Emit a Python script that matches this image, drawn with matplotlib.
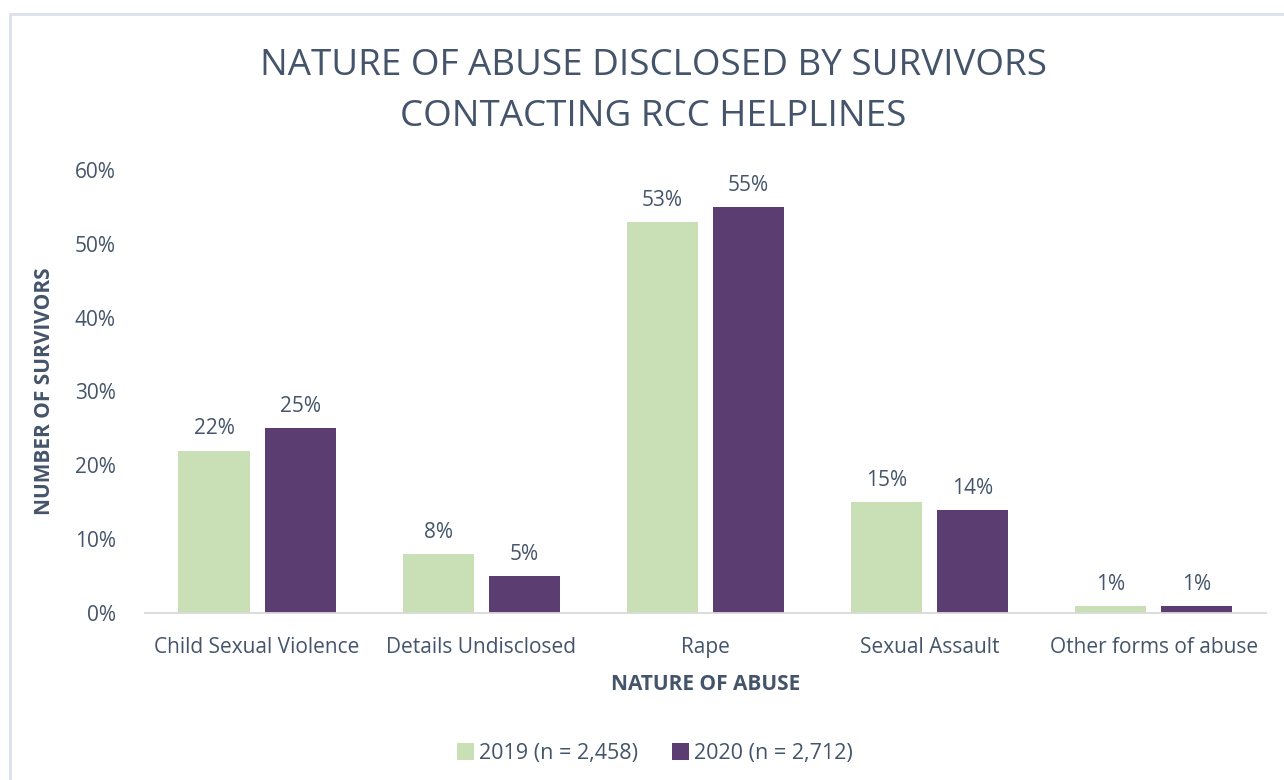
import matplotlib.pyplot as plt
import matplotlib.patches as mpatches
import numpy as np

categories = ["Child Sexual Violence", "Details Undisclosed", "Rape",
              "Sexual Assault", "Other forms of abuse"]
vals_2019 = [22, 8, 53, 15, 1]
vals_2020 = [25, 5, 55, 14, 1]
series_names = ["2019 (n = 2,458)", "2020 (n = 2,712)"]

green = "#C9DFB5"
purple = "#5C3D72"
txt = "#44546A"

plt.rcParams['font.family'] = ['Open Sans', 'DejaVu Sans']

fig = plt.figure(figsize=(12.84, 7.80), dpi=100)
ax = fig.add_axes([0.1129, 0.2141, 0.873, 0.568])

# outer frame
fig.patches.append(mpatches.Rectangle((10 / 1284, -0.01), 1.0, 1 - 14 / 780 + 0.01,
                                      transform=fig.transFigure, fill=False,
                                      edgecolor="#DCE1EA", lw=2))

x = np.arange(len(categories))
w = 0.317
off = (w + 0.067) / 2
b1 = ax.bar(x - off, np.array(vals_2019) / 100, w, color=green, label=series_names[0])
b2 = ax.bar(x + off, np.array(vals_2020) / 100, w, color=purple, label=series_names[1])

for bars, vals in ((b1, vals_2019), (b2, vals_2020)):
    for bar, v in zip(bars, vals):
        ax.annotate(f"{v}%", (bar.get_x() + bar.get_width() / 2, v / 100),
                    xytext=(0, 8), textcoords="offset points",
                    ha="center", va="bottom", fontsize=15, color=txt)

ax.set_xlim(-0.5, 4.5)
ax.set_ylim(0, 0.6)
ax.set_yticks(np.arange(0, 0.61, 0.1))
ax.set_yticklabels([f"{int(round(t * 100))}%" for t in np.arange(0, 0.61, 0.1)])
ax.set_xticks(x)
ax.set_xticklabels(categories)
ax.tick_params(length=0, labelsize=15, labelcolor=txt)
ax.tick_params(axis="x", pad=17)
ax.tick_params(axis="y", pad=21)
for s in ("top", "right", "left"):
    ax.spines[s].set_visible(False)
ax.spines["bottom"].set_color("#D9D9D9")
ax.spines["bottom"].set_linewidth(1.3)

ax.set_xlabel("NATURE OF ABUSE", fontsize=15, fontweight="bold", color=txt, labelpad=12)
ax.set_ylabel("NUMBER OF SURVIVORS", fontsize=15, fontweight="bold", color=txt, labelpad=14)

fig.text(0.509, 0.883, "NATURE OF ABUSE DISCLOSED BY SURVIVORS\nCONTACTING RCC HELPLINES",
         ha="center", va="center", fontsize=26.5, color=txt, linespacing=1.55)

fig.legend(loc="center", bbox_to_anchor=(0.51, 0.034), ncol=2, frameon=False,
           fontsize=15.5, labelcolor=txt, handlelength=0.8, handleheight=0.8,
           handletextpad=0.2, columnspacing=1.6)

fig.savefig("out.png", dpi=100)
